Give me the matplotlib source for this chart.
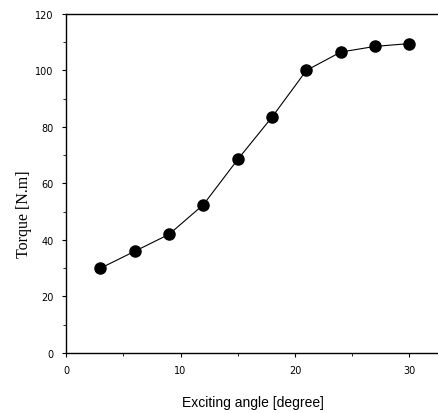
import matplotlib
matplotlib.use("Agg")
import matplotlib.pyplot as plt
import matplotlib.ticker as ticker

angle = [3, 6, 9, 12, 15, 18, 21, 24, 27, 30]
torque = [30, 36, 42, 52.5, 68.5, 83.5, 100, 106.5, 108.5, 109.5]

fig = plt.figure(figsize=(4.38, 4.14), dpi=100)
ax = fig.add_axes([0.151, 0.145, 0.849, 0.819])

ax.plot(angle, torque, color="black", linewidth=0.8,
        marker="o", markersize=8, markerfacecolor="black")

ax.set_xlim(0, 32.5)
ax.set_ylim(0, 120)
ax.xaxis.set_major_locator(ticker.MultipleLocator(10))
ax.xaxis.set_minor_locator(ticker.MultipleLocator(5))
ax.yaxis.set_major_locator(ticker.MultipleLocator(20))
ax.yaxis.set_minor_locator(ticker.MultipleLocator(10))
ax.tick_params(which="major", direction="out", length=3, width=0.8,
               labelsize=7, pad=6)
ax.tick_params(which="minor", direction="out", length=2, width=0.6)

ax.spines["right"].set_visible(False)
for s in ["left", "bottom", "top"]:
    ax.spines[s].set_linewidth(1.0)

ax.set_xlabel("Exciting angle [degree]", fontsize=10,
              family="Liberation Sans")
ax.xaxis.set_label_coords(0.503, -0.145)
ax.xaxis.label.set_va("center")
ax.set_ylabel("Torque [N.m]", fontsize=11.5, family="Liberation Serif")
ax.yaxis.set_label_coords(-0.113, 0.413)
ax.yaxis.label.set_va("center")

fig.savefig("out.png", dpi=100)
